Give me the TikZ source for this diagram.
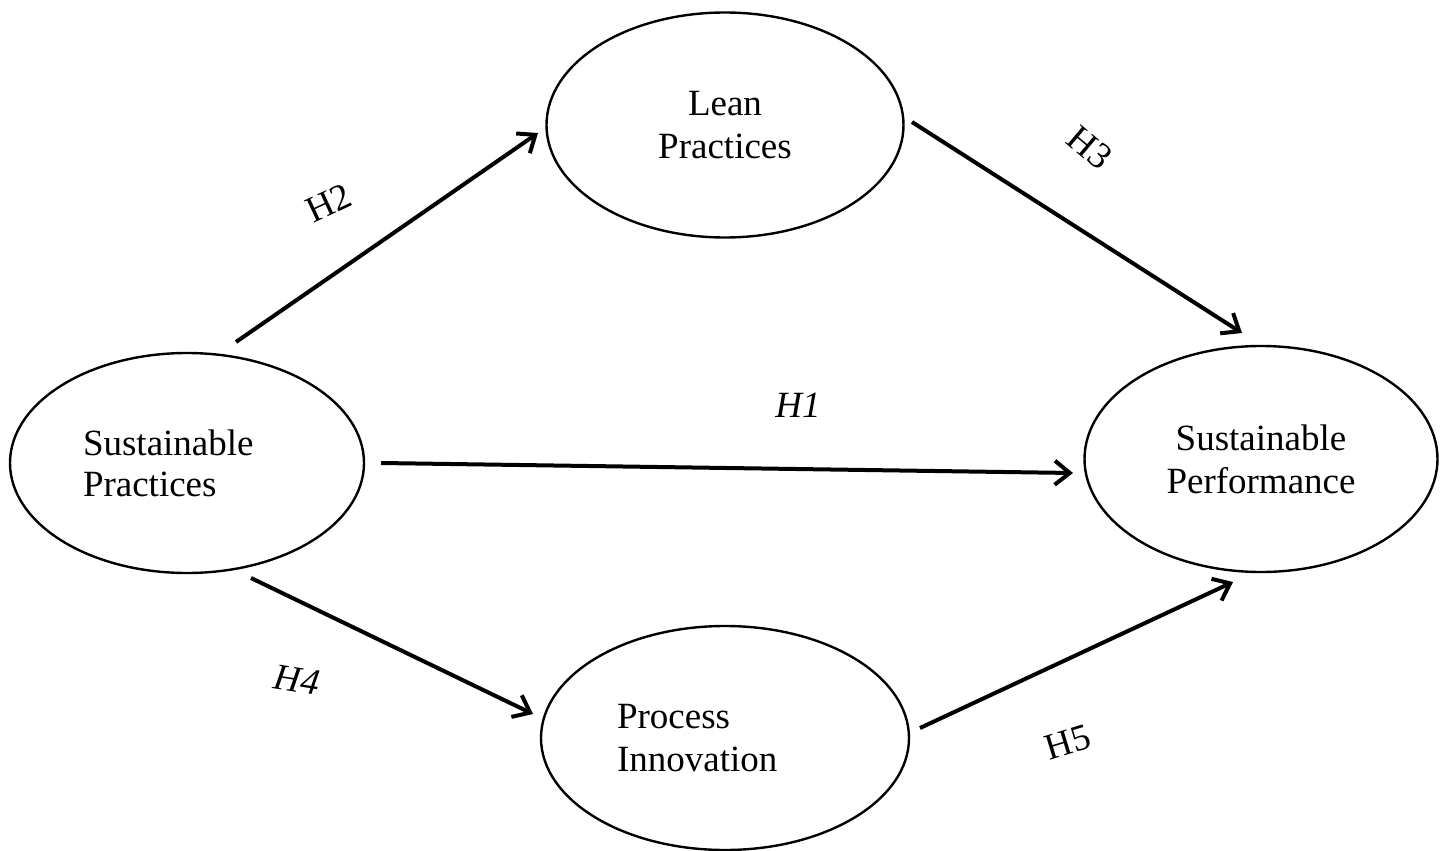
\documentclass[tikz,border=0pt]{standalone}
\usepackage{fontspec}
\setmainfont{Liberation Serif}
\usetikzlibrary{shapes.geometric,arrows.meta}
\begin{document}
\begin{tikzpicture}[x=1pt,y=-1pt,
  construct/.style={ellipse,draw,line width=2.4pt,inner sep=0pt,
    font=\fontsize{37}{43}\selectfont},
  link/.style={line width=4pt,-{Straight Barb[length=15pt,width=24pt]}},
  hyp/.style={font=\fontsize{37}{43}\selectfont,inner sep=0pt}]
\useasboundingbox (0,0) rectangle (1446,851);
\node[construct,minimum width=354pt,minimum height=220pt,align=left,text width=208pt]
  (sp) at (187,463) {\raisebox{-2pt}{Sustainable}\\[-2pt]\raisebox{-2pt}{Practices}};
\node[construct,minimum width=357pt,minimum height=225pt,align=center]
  (lp) at (725,125) {\raisebox{-3pt}{Lean}\\\raisebox{-3pt}{Practices}};
\node[construct,minimum width=353pt,minimum height=226pt,align=center]
  (spf) at (1261,459) {\raisebox{-2pt}{Sustainable}\\\raisebox{-2pt}{Performance}};
\node[construct,minimum width=368pt,minimum height=224pt,align=left,text width=216pt]
  (pi) at (725,738) {\raisebox{-2pt}{Process}\\\raisebox{-2pt}{Innovation}};

\draw[link] ([shift={(49,-121)}]sp.center) -- ([shift={(-187,8)}]lp.center);
\draw[link] ([shift={(187,-3)}]lp.center) -- ([shift={(-19,-126)}]spf.center);
\draw[link] ([shift={(194,0)}]sp.center) -- ([shift={(-188,14)}]spf.center);
\draw[link] ([shift={(64,115)}]sp.center) -- ([shift={(-192,-24)}]pi.center);
\draw[link] ([shift={(195,-10)}]pi.center) -- ([shift={(-28,123)}]spf.center);

\node[hyp,rotate=25] (h2) at (329,203) {H2};
\node[hyp,rotate=-40] (h3) at (1090,148) {H3};
\node[hyp] (h1) at (798,405) {\itshape H1};
\node[hyp,rotate=-9] (h4) at (297,680) {\itshape H4};
\node[hyp,rotate=17] (h5) at (1068,742) {H5};
\end{tikzpicture}
\end{document}
